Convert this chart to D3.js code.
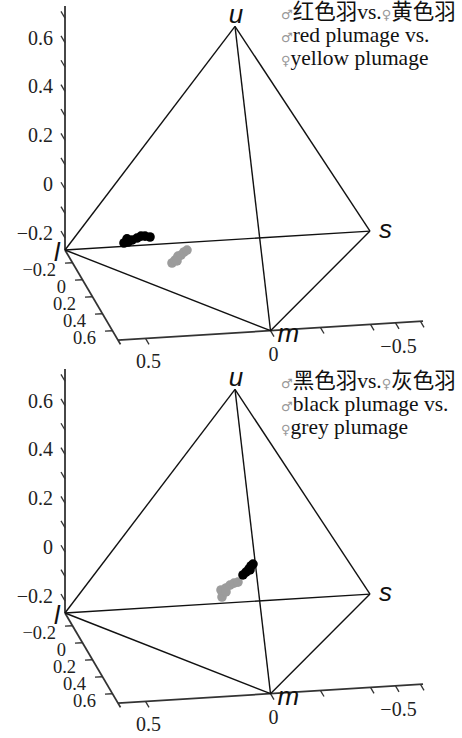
<!DOCTYPE html>
<html lang="zh">
<head>
<meta charset="UTF-8">
<title>Plumage colours in tetrahedral colour space</title>
<script src="https://cdn.jsdelivr.net/npm/d3@7"></script>
<style>
  body { margin: 0; background: #fff; }
  svg { display: block; }
  .axis { fill: none; stroke: #333; stroke-width: 1.8; }
  .tick { fill: none; stroke: #333; stroke-width: 1.3; }
  .edge { fill: none; stroke: #111; stroke-width: 1.4; }
  .tick-label { font-family: "Liberation Serif", "Times New Roman", serif; font-size: 20px; fill: #222; }
  .depth-label { font-size: 18.5px; }
  .vertex { font-family: "Liberation Sans", Arial, sans-serif; font-style: italic; font-size: 26px; fill: #111; }
  .legend { font-family: "Liberation Serif", "Noto Sans CJK SC", serif; font-size: 21.5px; fill: #111; }
  .sex { font-family: "DejaVu Sans", sans-serif; font-size: 13px; fill: #999; }
</style>
</head>
<body>
<svg id="chart" width="462" height="738"></svg>
<script>
// corners of the tetrahedron (x, y, z)
const vertexNames = ["u", "s", "m", "l"];
const vertexXYZ = [[0, 0, 0.75], [-0.61, -0.35, -0.25], [0, 0.71, -0.25], [0.61, -0.35, -0.25]];
const edgePairs = [["u", "l"], ["u", "s"], ["u", "m"], ["l", "s"], ["l", "m"], ["s", "m"]];

const zTicks = [-0.2, -0.1, 0, 0.1, 0.2, 0.3, 0.4, 0.5, 0.6, 0.7];
const zTickLabels = [-0.2, 0, 0.2, 0.4, 0.6];
const yTicks = [-0.2, 0, 0.2, 0.4, 0.6];
const xTicks = [0.5, 0, -0.2, -0.4, -0.5, -0.6];
const xTickLabels = [0.5, 0, -0.5];

// top panel: males red, females yellow
const redMale = [[0.424, -0.1, -0.146], [0.408, -0.1, -0.143], [0.392, -0.1, -0.136], [0.372, -0.1, -0.129],
                 [0.356, -0.1, -0.122], [0.340, -0.1, -0.123], [0.320, -0.1, -0.128], [0.412, -0.1, -0.130]];
const yellowFemale = [[0.252, 0, -0.204], [0.240, 0, -0.193], [0.228, 0, -0.177], [0.216, 0, -0.174],
                      [0.204, 0, -0.162], [0.192, 0, -0.155], [0.232, 0, -0.197]];
// bottom panel: males black, females grey
const blackMale = [[-0.032, 0, -0.013], [-0.044, 0, -0.002], [-0.056, 0, 0.010], [-0.064, 0, 0.022],
                   [-0.072, 0, 0.029], [-0.060, 0, 0.006]];
const greyFemale = [[0.052, 0, -0.098], [0.056, 0, -0.069], [0.036, 0, -0.062], [0.020, 0, -0.051],
                    [0.004, 0, -0.044], [-0.012, 0, -0.041], [0.036, 0, -0.078]];

const legend1 = [["♂", "红色羽vs.", "♀", "黄色羽"], ["♂", "red plumage vs."], ["♀", "yellow plumage"]];
const legend2 = [["♂", "黑色羽vs.", "♀", "灰色羽"], ["♂", "black plumage vs."], ["♀", "grey plumage"]];

const xMin = -0.61, xMax = 0.61, yMin = -0.35, yMax = 0.71, zMin = -0.25, zMax = 0.75;

// oblique view, every data axis moves along its own screen direction
const xH = d3.scaleLinear().domain([0, 1]).range([235, -15]);
const xV = d3.scaleLinear().domain([0, 1]).range([209.3, 224.8]);
const yH = d3.scaleLinear().domain([0, 1]).range([0, 50]);
const yV = d3.scaleLinear().domain([0, 1]).range([0, 85]);
const zV = d3.scaleLinear().domain([0, 1]).range([0, -244]);

function proj(p) {
  return [xH(p[0]) + yH(p[1]), xV(p[0]) + yV(p[1]) + zV(p[2])];
}
const fmt = v => (v < 0 ? "\u2212" : "") + Math.abs(v);
const line = d3.line();

const svg = d3.select("#chart");

function drawPanel(top, male, female, legend, legendTop) {
  const g = svg.append("g").attr("transform", `translate(0,${top})`);

  // vertical axis (z)
  g.append("path").attr("class", "axis")
    .attr("d", line([proj([xMax, yMin, zMin]), proj([xMax, yMin, zMax])]));
  g.selectAll(".ztick").data(zTicks).join("path").attr("class", "tick")
    .attr("d", d => line([proj([xMax, yMin, d]), proj([xMax, yMin - 0.08, d])]));
  g.selectAll(".zlab").data(zTickLabels).join("text").attr("class", "tick-label")
    .attr("text-anchor", "end").attr("dominant-baseline", "central")
    .attr("x", d => proj([xMax, yMin, d])[0] - 12)
    .attr("y", d => proj([xMax, yMin, d])[1] - 5)
    .text(fmt);

  // depth axis (y)
  g.append("path").attr("class", "axis")
    .attr("d", line([proj([xMax, yMin, zMin]), proj([xMax, yMax + 0.05, zMin])]));
  g.selectAll(".ytick").data(yTicks).join("path").attr("class", "tick")
    .attr("d", d => line([proj([xMax, d, zMin]), proj([xMax + 0.03, d, zMin])]));
  g.selectAll(".ylab").data(yTicks).join("text").attr("class", "tick-label depth-label")
    .attr("text-anchor", "end").attr("dominant-baseline", "central")
    .attr("x", d => proj([xMax + 0.03, d, zMin])[0] - 9)
    .attr("y", d => proj([xMax + 0.03, d, zMin])[1] + 7)
    .text(fmt);

  // bottom axis (x)
  g.append("path").attr("class", "axis")
    .attr("d", line([proj([xMax, yMax, zMin]), proj([xMin, yMax, zMin])]));
  g.selectAll(".xtick").data(xTicks).join("path").attr("class", "tick")
    .attr("d", d => line([proj([d, yMax, zMin]), proj([d, yMax + 0.07, zMin])]));
  g.selectAll(".xlab").data(xTickLabels).join("text").attr("class", "tick-label")
    .attr("text-anchor", "middle").attr("dominant-baseline", "central")
    .attr("x", d => proj([d, yMax, zMin])[0] + 3)
    .attr("y", d => proj([d, yMax, zMin])[1] + 23)
    .text(fmt);

  // tetrahedron
  const vx = {};
  vertexNames.forEach((n, i) => vx[n] = proj(vertexXYZ[i]));
  g.selectAll(".edge").data(edgePairs).join("path").attr("class", "edge")
    .attr("d", d => line([vx[d[0]], vx[d[1]]]));

  const labelShift = { u: [1, -3, "middle"], s: [9, 7, "start"], m: [7, 11, "start"], l: [-11, 11, "start"] };
  g.selectAll(".vertex").data(vertexNames).join("text").attr("class", "vertex")
    .attr("x", d => vx[d][0] + labelShift[d][0])
    .attr("y", d => vx[d][1] + labelShift[d][1])
    .attr("text-anchor", d => labelShift[d][2])
    .text(d => d);

  // samples
  g.selectAll(".female").data(female).join("circle").attr("class", "female")
    .attr("cx", d => proj(d)[0]).attr("cy", d => proj(d)[1])
    .attr("r", 4.8).attr("fill", "#9c9c9c");
  g.selectAll(".male").data(male).join("circle").attr("class", "male")
    .attr("cx", d => proj(d)[0]).attr("cy", d => proj(d)[1])
    .attr("r", 4.8).attr("fill", "#000");

  // legend
  legend.forEach((parts, i) => {
    const t = g.append("text").attr("class", "legend")
      .attr("x", 281).attr("y", legendTop + i * 23);
    parts.forEach(p => {
      t.append("tspan").attr("class", (p === "♂" || p === "♀") ? "sex" : null).text(p);
    });
  });
}

drawPanel(0, redMale, yellowFemale, legend1, 19);
drawPanel(363, blackMale, greyFemale, legend2, 25);
</script>
</body>
</html>
